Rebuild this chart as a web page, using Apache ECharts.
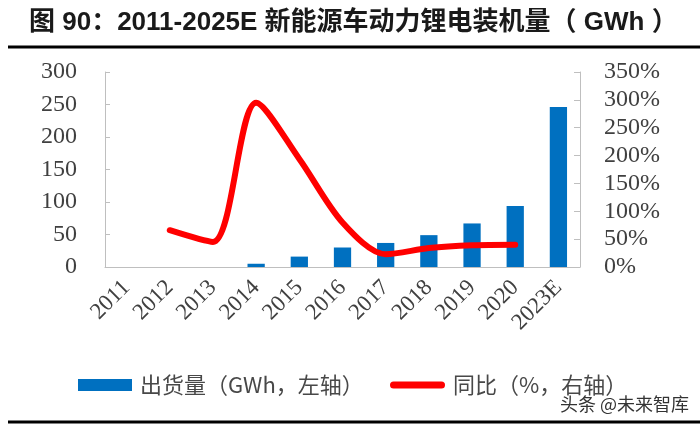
<!DOCTYPE html>
<html>
<head>
<meta charset="utf-8">
<script src="https://cdn.jsdelivr.net/npm/echarts@6/dist/echarts.min.js"></script>
<style>html,body{margin:0;padding:0;background:#fff;}#c{width:700px;height:426px;}</style>
</head>
<body>
<div id="c"></div>
<script>
var categories = ['2011','2012','2013','2014','2015','2016','2017','2018','2019','2020','2023E'];
var shipment = [null, null, null, 5, 16, 30, 37, 49, 67, 94, 246];
var yoy = [null, 66, 45, 295, 194, 80, 23, 34, 39, 40, null];
var leftTicks = {min: 0, max: 300, interval: 50};
var rightTicks = {min: 0, max: 350, interval: 50};

var chart = echarts.init(document.getElementById('c'), null, {renderer: 'canvas'});
var serif = '"Liberation Serif", "Times New Roman", serif';
var cjk = '"Noto Sans CJK SC", sans-serif';
chart.setOption({
  animation: false,
  backgroundColor: '#fff',
  title: {
    text: '图 90：2011-2025E 新能源车动力锂电装机量（ GWh ）',
    left: 24, top: 5,
    textStyle: {fontSize: 26, fontWeight: 'bold', color: '#1a1a1a', fontFamily: '"Liberation Sans", "Noto Sans CJK SC", sans-serif'}
  },
  graphic: [
    {type: 'line', shape: {x1: 8, y1: 47, x2: 700, y2: 47}, style: {stroke: '#000', lineWidth: 3}},
    {type: 'line', shape: {x1: 8, y1: 422, x2: 700, y2: 422}, style: {stroke: '#000', lineWidth: 3}},
    {type: 'text', left: 560, top: 395, style: {text: '头条 @未来智库', fontSize: 18, fill: '#333', fontFamily: cjk}}
  ],
  legend: [
    {data: ['出货量（GWh，左轴）'], left: 73, top: 369, itemWidth: 54, itemHeight: 12, icon: 'rect',
     textStyle: {fontSize: 22, color: '#484848', fontFamily: cjk, padding: [0,0,0,3]}},
    {data: ['同比（%，右轴）'], left: 385, top: 369, itemWidth: 55, itemHeight: 7,
     icon: 'path://M3.5,0 L51.5,0 A3.5,3.5 0 0 1 51.5,7 L3.5,7 A3.5,3.5 0 0 1 3.5,0 Z',
     textStyle: {fontSize: 22, color: '#484848', fontFamily: cjk, padding: [0,0,0,3]}}
  ],
  grid: {left: 105, right: 120, top: 72, bottom: 159, containLabel: false},
  xAxis: {
    type: 'category', data: categories, boundaryGap: true,
    axisLine: {lineStyle: {color: '#bfbfbf', width: 1}},
    axisTick: {show: false},
    axisLabel: {rotate: 45, fontSize: 23, color: '#404040', fontFamily: serif, margin: 17, interval: 0}
  },
  yAxis: [
    {type: 'value', min: leftTicks.min, max: leftTicks.max, interval: leftTicks.interval,
     axisLine: {show: true, lineStyle: {color: '#bfbfbf'}},
     axisTick: {show: true, inside: true, length: 5, lineStyle: {color: '#bfbfbf'}},
     splitLine: {show: false},
     axisLabel: {fontSize: 24, color: '#404040', fontFamily: serif, margin: 28}},
    {type: 'value', min: rightTicks.min, max: rightTicks.max, interval: rightTicks.interval, position: 'right',
     axisLine: {show: true, lineStyle: {color: '#bfbfbf'}},
     axisTick: {show: true, inside: true, length: 6, lineStyle: {color: '#bfbfbf'}},
     splitLine: {show: false},
     axisLabel: {fontSize: 24, color: '#404040', fontFamily: serif, margin: 24, formatter: '{value}%'}}
  ],
  series: [
    {name: '出货量（GWh，左轴）', type: 'bar', data: shipment, yAxisIndex: 0, barWidth: '40%',
     itemStyle: {color: '#0070C0'}},
    {name: '同比（%，右轴）', type: 'line', data: yoy, yAxisIndex: 1, smooth: 0.3, symbol: 'none',
     connectNulls: false,
     lineStyle: {color: '#FF0000', width: 6, cap: 'round', join: 'round'}, itemStyle: {color: '#FF0000'}}
  ]
});
</script>
</body>
</html>
